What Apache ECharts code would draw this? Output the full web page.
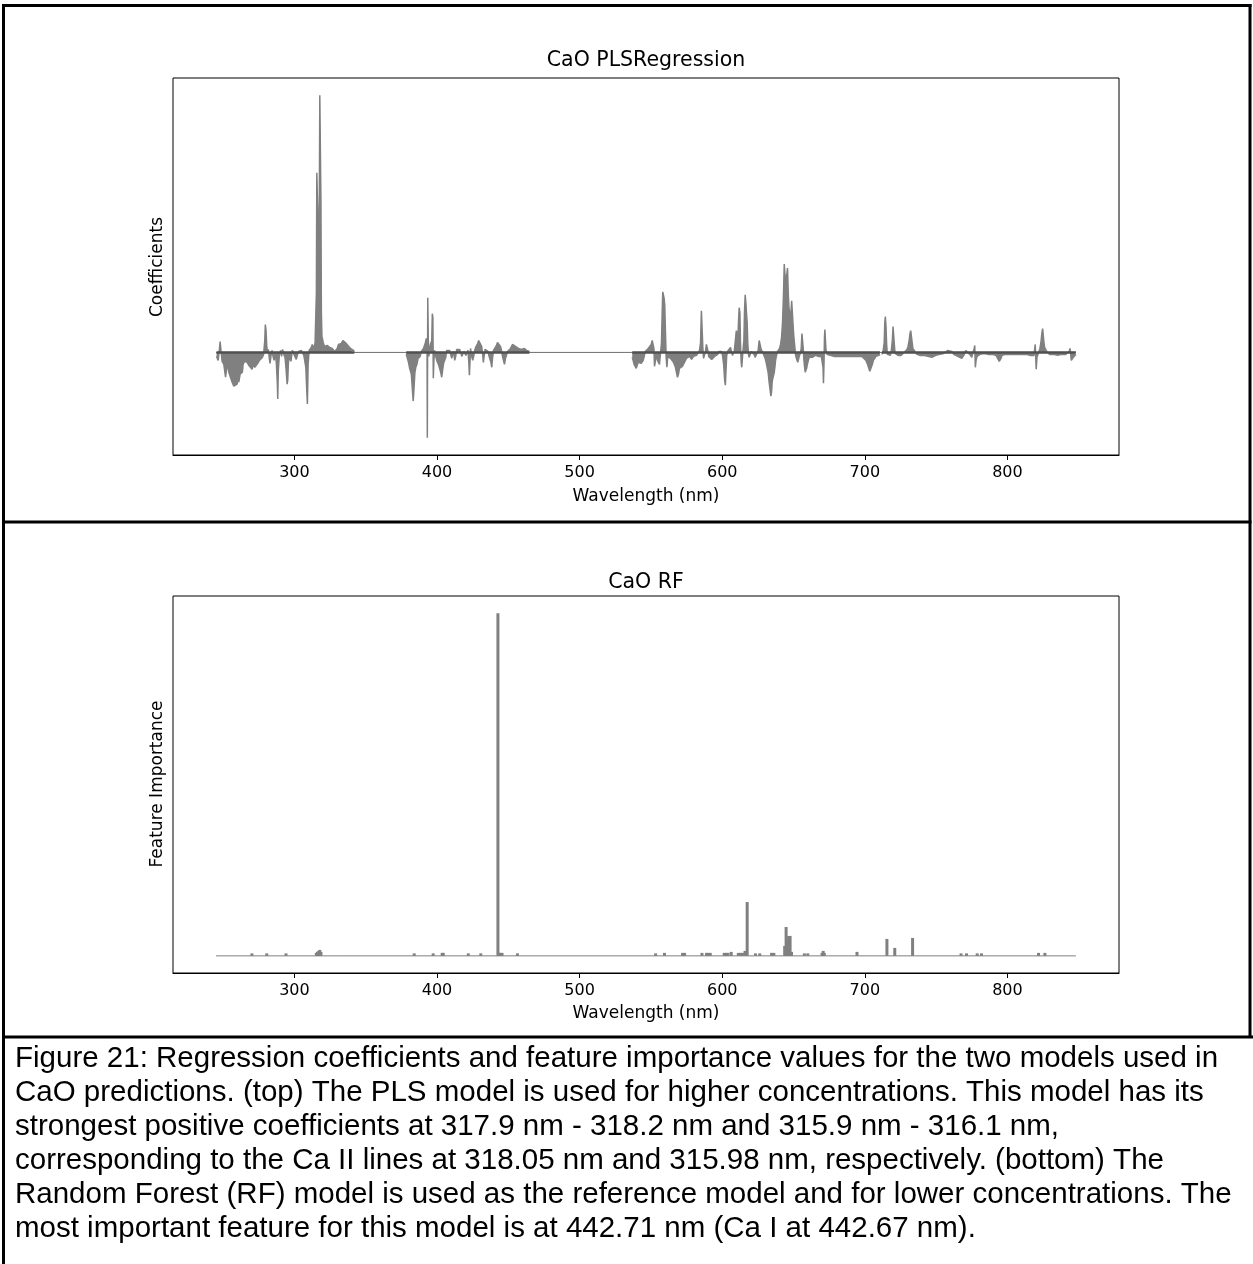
<!DOCTYPE html>
<html>
<head>
<meta charset="utf-8">
<script src="https://cdn.jsdelivr.net/npm/echarts@6/dist/echarts.min.js"></script>
<style>
html,body{margin:0;padding:0;background:#fff;}
#chart{width:1253px;height:1264px;}
</style>
</head>
<body>
<div id="chart"></div>
<script>
// ---------- DATA ----------
const xTicks = [300, 400, 500, 600, 700, 800];
const wlStart = 245, wlEnd = 848;

// PLS coefficients, [wavelength nm, coefficient] for each spectrometer segment
const plsUV = [[245.4,-0.004],[246.5,-0.008],[247.4,0.003],[247.9,0.011],[248.5,0.002],[249.3,-0.009],[250.5,-0.012],[251.7,-0.025],[252.5,-0.016],[253.3,-0.013],[254.0,-0.020],[255.4,-0.018],[256.3,-0.030],[257.5,-0.034],[258.6,-0.033],[259.8,-0.032],[260.6,-0.026],[261.0,-0.030],[261.9,-0.022],[262.8,-0.024],[263.5,-0.020],[264.0,-0.012],[265.0,-0.009],[265.8,-0.011],[266.9,-0.010],[268.0,-0.013],[269.2,-0.014],[270.3,-0.017],[271.2,-0.012],[272.2,-0.015],[273.3,-0.017],[274.3,-0.011],[275.4,-0.008],[276.6,-0.010],[277.5,-0.005],[278.4,-0.002],[279.2,0.012],[279.6,0.028],[280.1,0.022],[280.6,0.006],[281.2,-0.001],[281.7,0.003],[282.4,-0.006],[282.9,-0.011],[283.6,-0.003],[284.3,0.002],[285.0,-0.004],[285.7,-0.008],[286.6,-0.002],[287.3,-0.010],[288.0,-0.030],[288.3,-0.047],[288.7,-0.018],[289.4,-0.003],[290.3,0.002],[291.0,-0.004],[291.7,0.003],[292.6,-0.002],[293.5,-0.006],[294.2,-0.018],[294.9,-0.032],[295.3,-0.028],[295.8,-0.010],[296.7,-0.004],[297.6,-0.009],[298.5,0.002],[299.4,0.003],[300.3,-0.004],[301.3,-0.007],[302.0,-0.003],[302.9,0.001],[303.9,0.003],[304.8,0.002],[305.7,0.004],[306.6,-0.003],[307.3,-0.005],[308.0,-0.015],[308.7,-0.040],[309.1,-0.052],[309.6,-0.012],[310.3,0.002],[311.0,0.004],[311.8,0.005],[312.5,0.008],[313.1,0.006],[313.8,0.004],[314.5,0.010],[315.0,0.012],[315.4,0.060],[315.7,0.181],[316.3,0.180],[316.7,0.120],[317.1,0.100],[317.5,0.160],[317.8,0.259],[318.3,0.258],[318.6,0.150],[318.9,0.040],[319.3,0.016],[320.2,0.010],[321.1,0.006],[322.0,0.008],[322.9,0.007],[323.8,0.006],[324.7,0.005],[325.6,0.006],[326.5,0.004],[327.4,0.003],[328.3,0.001],[329.2,0.002],[330.0,0.004],[330.9,0.008],[331.8,0.010],[332.9,0.009],[334.0,0.012],[334.8,0.013],[335.7,0.010],[336.6,0.008],[337.5,0.007],[338.4,0.005],[339.3,0.004],[340.2,0.003],[341.4,0.002],[342.0,0.001]];

const plsVIO = [[378.4,-0.002],[379.2,-0.006],[380.0,-0.010],[380.8,-0.016],[381.2,-0.018],[382.0,-0.022],[382.6,-0.035],[383.3,-0.049],[383.9,-0.035],[384.5,-0.020],[385.1,-0.015],[385.9,-0.012],[386.7,-0.006],[387.5,-0.005],[388.2,-0.004],[389.0,0.001],[389.7,0.002],[390.5,0.004],[391.2,0.006],[391.9,0.010],[392.5,0.014],[393.0,0.010],[393.2,-0.086],[393.5,0.055],[393.9,0.012],[394.3,-0.004],[394.9,0.005],[395.4,0.008],[395.9,0.009],[396.3,0.012],[396.7,0.039],[397.1,0.035],[397.4,-0.026],[397.8,-0.008],[398.3,0.002],[399.1,-0.004],[399.8,-0.008],[400.5,-0.010],[401.2,-0.013],[401.9,-0.015],[402.6,-0.020],[403.3,-0.025],[403.9,-0.018],[404.6,-0.011],[405.3,-0.009],[406.1,-0.005],[406.8,0.002],[407.5,0.004],[408.2,0.003],[408.9,0.002],[409.6,-0.002],[410.3,-0.006],[411.0,-0.004],[411.7,0.001],[412.4,-0.008],[413.1,-0.004],[413.8,0.003],[414.5,0.002],[415.2,0.001],[415.9,0.003],[416.6,0.002],[417.4,-0.004],[418.1,-0.003],[418.8,0.001],[419.5,0.002],[420.2,-0.003],[420.9,-0.002],[421.7,0.002],[422.3,-0.010],[422.7,-0.023],[423.1,-0.010],[423.5,0.004],[424.3,-0.004],[425.0,-0.008],[425.7,-0.004],[426.4,0.002],[427.1,0.005],[427.8,0.007],[428.5,0.009],[429.2,0.012],[429.9,0.012],[430.6,0.010],[431.3,0.006],[432.0,-0.002],[432.5,-0.010],[433.0,-0.004],[433.7,0.003],[434.4,0.002],[435.1,0.004],[435.8,0.001],[436.5,-0.004],[437.2,-0.006],[437.8,-0.010],[438.4,-0.015],[438.9,-0.006],[439.6,0.002],[440.3,0.004],[441.0,0.003],[441.7,0.007],[442.4,0.010],[443.1,0.011],[443.8,0.009],[444.5,0.006],[445.2,0.002],[445.9,-0.004],[446.6,-0.008],[447.3,-0.012],[448.0,-0.006],[448.7,-0.003],[449.4,0.001],[450.1,0.002],[450.8,0.003],[451.5,0.004],[452.2,0.006],[452.9,0.008],[453.6,0.009],[454.3,0.008],[455.0,0.006],[455.7,0.005],[456.4,0.005],[457.1,0.004],[457.8,0.003],[458.5,0.002],[459.2,0.003],[459.9,0.003],[460.6,0.004],[461.3,0.004],[462.0,0.003],[462.8,0.002],[463.7,0.002],[464.8,0.001]];

const plsVNIR1 = [[536.9,-0.005],[537.5,-0.008],[538.2,-0.012],[538.9,-0.010],[539.7,-0.016],[540.4,-0.014],[541.1,-0.010],[541.8,-0.011],[542.5,-0.009],[543.2,-0.011],[543.9,-0.010],[544.6,-0.008],[545.3,-0.004],[546.0,0.001],[546.7,0.003],[547.4,0.003],[548.1,0.004],[548.8,0.005],[549.5,0.005],[550.2,0.008],[550.9,0.012],[551.6,0.012],[552.1,0.004],[552.5,-0.014],[553.0,-0.010],[553.5,-0.003],[554.0,-0.004],[554.6,-0.008],[555.3,-0.010],[556.0,-0.012],[556.5,-0.004],[557.0,0.003],[557.4,0.010],[557.9,0.040],[558.3,0.061],[558.8,0.060],[559.2,0.055],[559.7,0.048],[560.2,0.020],[560.7,-0.005],[561.2,-0.015],[561.8,-0.004],[562.3,-0.003],[563.0,-0.004],[563.7,-0.006],[564.4,-0.006],[565.1,-0.008],[565.8,-0.010],[566.5,-0.012],[567.2,-0.015],[567.9,-0.020],[568.6,-0.025],[569.3,-0.022],[570.0,-0.016],[570.7,-0.015],[571.4,-0.016],[572.1,-0.014],[572.8,-0.012],[573.5,-0.010],[574.2,-0.008],[574.9,-0.006],[575.6,-0.005],[576.3,-0.005],[577.1,-0.004],[577.8,-0.006],[578.5,-0.007],[579.2,-0.006],[579.9,-0.004],[580.6,-0.005],[581.3,-0.004],[582.0,-0.003],[582.7,-0.002],[583.4,-0.001],[584.1,0.002],[584.8,0.010],[585.4,0.042],[585.9,0.040],[586.4,0.005],[586.9,-0.006],[587.6,-0.004],[588.3,0.001],[588.9,0.008],[589.4,0.009],[589.9,0.002],[590.5,-0.004],[591.2,-0.005],[591.9,-0.004],[592.6,-0.007],[593.3,-0.008],[594.0,-0.005],[594.7,-0.004],[595.4,-0.003],[596.1,-0.004],[596.8,-0.002],[597.5,0.001],[598.2,0.002],[598.9,0.002],[599.6,0.001],[600.3,-0.004],[601.0,-0.012],[601.7,-0.028],[602.2,-0.033],[602.6,-0.020],[603.1,-0.004],[603.7,0.001],[604.4,0.002],[605.1,0.003],[605.8,0.005],[606.5,0.004],[607.2,-0.003],[607.9,-0.004],[608.5,0.002],[609.2,0.012],[609.9,0.022],[610.4,0.018],[610.9,0.010],[611.4,0.030],[611.9,0.045],[612.4,0.040],[612.8,0.010],[613.3,-0.010],[613.7,-0.015],[614.2,-0.005],[614.7,0.004],[615.2,0.012],[615.6,0.040],[616.1,0.058],[616.6,0.050],[617.0,0.040],[617.5,0.030],[617.9,0.010],[618.4,-0.002],[618.9,-0.005],[619.6,-0.003],[620.3,0.001],[621.0,0.002],[621.7,0.001],[622.4,-0.002],[623.1,-0.005],[623.8,-0.006],[624.5,-0.004],[625.2,0.002],[625.9,0.012],[626.6,0.010],[627.3,0.003],[628.0,0.001],[628.7,-0.001],[629.4,-0.003],[630.1,-0.006],[630.8,-0.010],[631.5,-0.015],[632.2,-0.020],[632.9,-0.030],[633.6,-0.038],[634.1,-0.044],[634.6,-0.040],[635.0,-0.030],[635.5,-0.026],[636.0,-0.025],[636.5,-0.020],[637.0,-0.014],[637.4,-0.008],[638.1,-0.003],[638.8,0.001],[639.5,0.002],[640.2,0.004],[640.9,0.008],[641.6,0.015],[642.3,0.030],[643.0,0.060],[643.5,0.089],[644.0,0.088],[644.4,0.070],[644.9,0.075],[645.4,0.080],[645.8,0.085],[646.3,0.060],[646.8,0.045],[647.3,0.040],[647.7,0.035],[648.2,0.040],[648.7,0.052],[649.1,0.051],[649.6,0.030],[650.1,0.018],[650.6,0.010],[651.0,0.004],[651.5,-0.003],[652.0,-0.006],[652.5,-0.008],[653.0,-0.010],[653.5,-0.008],[654.0,-0.004],[654.7,-0.001],[655.4,0.004],[655.9,0.019],[656.3,0.020],[656.8,0.004],[657.3,-0.008],[657.8,-0.015],[658.2,-0.020],[658.7,-0.020],[659.2,-0.016],[659.7,-0.012],[660.4,-0.008],[661.1,-0.005],[661.8,-0.004],[662.5,-0.004],[663.2,-0.005],[663.9,-0.006],[664.6,-0.004],[665.3,-0.003],[666.0,-0.004],[666.7,-0.005],[667.4,-0.004],[668.1,-0.003],[668.8,-0.003],[669.5,-0.004],[670.2,-0.006],[670.7,-0.015],[671.0,-0.031],[671.4,-0.010],[671.7,0.015],[672.0,0.023],[672.4,0.012],[672.8,0.002],[673.5,-0.002],[674.2,-0.003],[674.9,-0.004],[675.6,-0.003],[676.3,-0.004],[677.0,-0.005],[678.4,-0.004],[679.8,-0.005],[681.2,-0.004],[682.6,-0.003],[684.0,-0.004],[685.4,-0.005],[686.8,-0.004],[688.2,-0.003],[689.6,-0.004],[691.0,-0.005],[692.4,-0.004],[693.8,-0.003],[695.2,-0.004],[696.6,-0.005],[698.0,-0.004],[699.4,-0.005],[700.8,-0.008],[701.9,-0.012],[702.8,-0.016],[703.5,-0.019],[704.1,-0.021],[704.7,-0.018],[705.3,-0.012],[706.0,-0.008],[706.8,-0.006],[707.8,-0.004],[708.8,-0.003],[709.8,-0.003],[710.6,-0.002]];

const plsVNIR2 = [[712.0,-0.002],[712.9,0.002],[713.6,0.010],[714.0,0.030],[714.4,0.036],[714.9,0.025],[715.3,0.008],[715.8,-0.002],[716.5,-0.003],[717.2,-0.002],[717.9,-0.003],[718.6,0.002],[719.3,0.012],[719.8,0.026],[720.2,0.024],[720.7,0.008],[721.2,-0.001],[721.9,-0.003],[722.6,-0.002],[723.3,-0.003],[724.0,-0.002],[724.7,-0.002],[725.4,-0.003],[726.1,-0.002],[726.8,-0.001],[727.5,0.000],[728.2,0.001],[728.9,0.002],[729.6,0.003],[730.3,0.006],[731.0,0.011],[731.7,0.019],[732.2,0.022],[732.7,0.020],[733.2,0.010],[733.7,0.004],[734.4,0.002],[735.1,0.001],[735.8,-0.001],[736.5,-0.002],[737.2,-0.002],[738.6,-0.003],[740.0,-0.002],[741.4,-0.003],[742.8,-0.002],[744.2,-0.004],[745.6,-0.004],[747.0,-0.005],[748.4,-0.004],[749.8,-0.003],[751.2,-0.003],[752.6,-0.002],[754.0,-0.002],[755.4,-0.001],[756.8,0.001],[758.2,0.002],[759.6,0.002],[761.0,0.001],[762.4,-0.002],[763.8,-0.003],[765.2,-0.004],[766.6,-0.005],[768.0,-0.006],[769.4,-0.003],[770.8,0.002],[772.2,0.002],[773.6,-0.002],[775.0,-0.005],[776.0,-0.004],[776.7,0.004],[777.1,0.007],[777.5,-0.015],[778.0,-0.008],[778.7,-0.004],[779.4,-0.003],[780.8,-0.002],[782.2,-0.002],[783.6,-0.001],[785.0,-0.002],[786.4,-0.002],[787.8,-0.002],[789.2,-0.002],[790.6,-0.003],[792.0,-0.003],[793.4,-0.005],[794.3,-0.009],[794.8,-0.010],[795.5,-0.006],[796.2,-0.003],[797.6,-0.002],[799.0,-0.002],[800.4,-0.002],[801.8,-0.002],[803.2,-0.002],[804.6,-0.002],[806.0,-0.002],[807.4,-0.002],[808.8,-0.003],[810.2,-0.002],[811.6,-0.002],[813.0,-0.002],[814.4,-0.003],[815.8,-0.003],[817.2,-0.002],[818.6,-0.003],[819.5,0.008],[819.9,0.010],[820.2,-0.017],[820.7,-0.005],[821.4,-0.002],[822.1,0.001],[822.8,0.004],[823.5,0.010],[824.2,0.020],[824.7,0.024],[825.1,0.018],[825.6,0.010],[826.1,0.005],[826.8,0.003],[827.5,0.001],[828.2,-0.001],[829.6,-0.002],[831.0,-0.003],[832.4,-0.002],[833.8,-0.002],[835.2,-0.003],[836.6,-0.002],[838.0,-0.002],[839.4,-0.003],[840.8,-0.002],[842.2,-0.002],[843.4,0.001],[843.9,0.004],[844.4,-0.002],[844.8,-0.008],[845.5,-0.006],[846.2,-0.005],[847.0,-0.003],[848.0,-0.002]];

// Random Forest feature importance (non-zero features only)
const rfWavelengths = [270.2,280.6,294.1,315.4,316.2,317.0,317.8,318.6,384.0,397.3,403.6,404.4,421.9,430.7,442.71,443.6,444.6,445.6,456.4,553.3,559.5,572.2,573.6,585.8,589.0,590.2,591.6,601.4,602.6,604.0,606.3,611.3,612.8,614.3,616.0,617.5,623.3,626.3,634.6,636.2,643.8,644.8,645.6,646.6,647.6,648.6,657.6,660.0,670.0,670.8,671.6,694.5,715.5,721.0,733.5,767.5,771.3,778.8,781.8,821.8,826.3];
const rfImportance = [0.0025,0.0025,0.0025,0.003,0.004,0.005,0.006,0.004,0.0025,0.0025,0.003,0.003,0.0025,0.0025,0.344,0.003,0.003,0.003,0.0025,0.0025,0.003,0.003,0.003,0.003,0.003,0.003,0.003,0.003,0.003,0.003,0.004,0.003,0.003,0.003,0.005,0.054,0.0025,0.0025,0.003,0.003,0.010,0.029,0.016,0.020,0.020,0.004,0.0025,0.0025,0.003,0.005,0.003,0.004,0.017,0.008,0.018,0.0025,0.0025,0.0025,0.0025,0.003,0.003];

const captionLines = [
  "Figure 21: Regression coefficients and feature importance values for the two models used in",
  "CaO predictions. (top) The PLS model is used for higher concentrations. This model has its",
  "strongest positive coefficients at 317.9 nm - 318.2 nm and 315.9 nm - 316.1 nm,",
  "corresponding to the Ca II lines at 318.05 nm and 315.98 nm, respectively. (bottom) The",
  "Random Forest (RF) model is used as the reference model and for lower concentrations. The",
  "most important feature for this model is at 442.71 nm (Ca I at 442.67 nm)."
];

// ---------- CHART ----------
const chart = echarts.init(document.getElementById('chart'), null, {renderer: 'canvas'});
const MPL = 'DejaVu Sans';
const GRAY = '#808080';
const plsSegments = [plsUV, plsVIO, plsVNIR1, plsVNIR2];

const xMin = 214.85, xMax = 878.25;
function xAxisCfg(gi) {
  return {
    type: 'value', gridIndex: gi, min: xMin, max: xMax,
    axisLine: {show: true, onZero: false, lineStyle: {color: '#000', width: 1}},
    axisTick: {show: true, length: 5, lineStyle: {color: '#000', width: 1}, customValues: xTicks},
    axisLabel: {show: true, color: '#000', fontFamily: MPL, fontSize: 16, margin: 10, customValues: xTicks},
    splitLine: {show: false}
  };
}
function yAxisCfg(gi, mn, mx) {
  return {
    type: 'value', gridIndex: gi, min: mn, max: mx,
    axisLine: {show: false}, axisTick: {show: false}, axisLabel: {show: false}, splitLine: {show: false}
  };
}

const series = [];
plsSegments.forEach(seg => {
  series.push({
    type: 'line', xAxisIndex: 0, yAxisIndex: 0, data: seg, showSymbol: false, symbol: 'none',
    lineStyle: {color: GRAY, width: 1.5}, areaStyle: {color: GRAY, opacity: 1, origin: 0},
    z: 2, silent: true
  });
});
series.push({
  type: 'line', xAxisIndex: 0, yAxisIndex: 0, data: [[wlStart, 0], [wlEnd, 0]],
  showSymbol: false, symbol: 'none', lineStyle: {color: '#6e6e6e', width: 1}, z: 3, silent: true
});
plsSegments.forEach(seg => {
  series.push({
    type: 'line', xAxisIndex: 0, yAxisIndex: 0, data: [[seg[0][0], 0], [seg[seg.length - 1][0], 0]],
    showSymbol: false, symbol: 'none', lineStyle: {color: '#505050', width: 2.5}, z: 4, silent: true
  });
});
series.push({
  type: 'line', xAxisIndex: 1, yAxisIndex: 1, data: [[wlStart, 0], [wlEnd, 0]],
  showSymbol: false, symbol: 'none', lineStyle: {color: GRAY, width: 1}, z: 2, silent: true
});
series.push({
  type: 'bar', xAxisIndex: 1, yAxisIndex: 1,
  data: rfWavelengths.map((w, i) => [w, rfImportance[i]]),
  barWidth: 3, barGap: '-100%', itemStyle: {color: GRAY}, z: 3, silent: true
});

const graphic = [];
const R = 1250;
// frame lines
const frameLines = [
  [2, 5.5, R + 1.5, 5.5], [3.5, 4, 3.5, 1264], [R, 4, R, 1037],
  [2, 522, R + 1.5, 522], [2, 1037, 1253, 1037]
];
frameLines.forEach(l => graphic.push({type: 'line', shape: {x1: l[0], y1: l[1], x2: l[2], y2: l[3]}, style: {stroke: '#000', lineWidth: 3}, silent: true}));

function txt(text, x, y, size, opts) {
  opts = opts || {};
  graphic.push({
    type: 'text', x: x, y: y, rotation: opts.rot || 0, silent: true,
    style: {text: text, fontFamily: opts.font || MPL, fontSize: size, fill: '#000',
      align: opts.align || 'center', verticalAlign: 'middle'}
  });
}
txt('CaO PLSRegression', 646, 61, 20.5);
txt('Wavelength (nm)', 646, 497, 17);
txt('Coefficients', 158, 267, 17, {rot: Math.PI / 2});
txt('CaO RF', 646, 583, 20.5);
txt('Wavelength (nm)', 646, 1014, 17);
txt('Feature Importance', 158, 784, 17, {rot: Math.PI / 2});
captionLines.forEach((line, i) => txt(line, 15, 1059 + i * 34, 29.5, {font: 'Liberation Sans', align: 'left'}));

chart.setOption({
  animation: false,
  backgroundColor: '#fff',
  grid: [
    {left: 173, top: 78, width: 946, height: 377, show: true, borderColor: '#000', borderWidth: 1, backgroundColor: 'transparent'},
    {left: 173, top: 596, width: 946, height: 377, show: true, borderColor: '#000', borderWidth: 1, backgroundColor: 'transparent'}
  ],
  xAxis: [xAxisCfg(0), xAxisCfg(1)],
  yAxis: [yAxisCfg(0, -0.1033, 0.2763), yAxisCfg(1, -0.0172, 0.3612)],
  series: series,
  graphic: graphic
});
</script>
</body>
</html>
